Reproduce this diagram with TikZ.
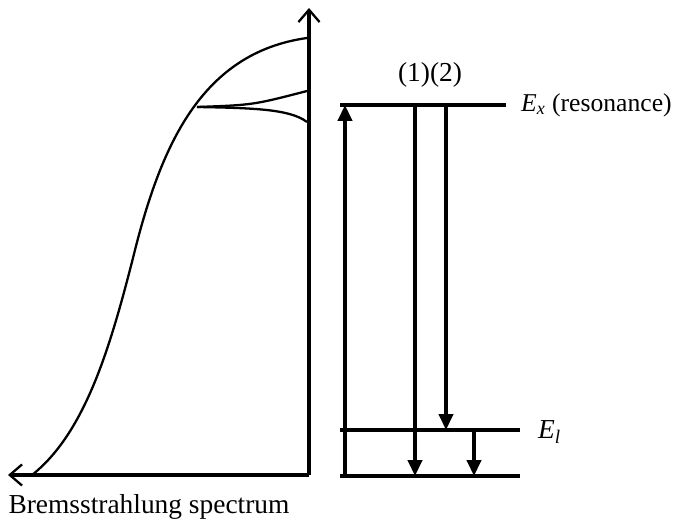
\documentclass[tikz,border=0pt]{standalone}
\usepackage{fontspec}
\setmainfont{Liberation Serif}
\usetikzlibrary{arrows.meta}

\tikzset{
  axis/.style={line width=1.9pt, -{Straight Barb[length=7pt,width=12pt,line width=1.3pt]}},
  level/.style={line width=1.9pt},
  trans/.style={line width=1.9pt, -{Triangle[length=9pt,width=8pt]}},
  spec/.style={line width=1.3pt},
  lbl/.style={font=\fontsize{15.6}{18}\selectfont, inner sep=1pt},
}

\begin{document}
\begin{tikzpicture}
    \useasboundingbox (0,0) rectangle (13.56,10.56);
    % Axes of the spectrum
    \coordinate (orig) at (6.18,1.06);
    \coordinate (ytip) at (6.18,10.4);
    \coordinate (xtip) at (0.16,1.06);
    \draw[axis] (orig) -- (ytip);
    \draw[axis] (orig) -- (xtip);
    % Bremsstrahlung curve
    \coordinate (cstart) at (0.64,1.06);
    \coordinate (cmid) at (2.66,5.4);
    \coordinate (cend) at (6.14,9.8);
    \draw[spec] (cstart) .. controls (1.7,1.9) and (2.2,3.6) .. (cmid)
                         .. controls (3.2,7.6) and (4.0,9.5) .. (cend);
    % Resonance notch
    \coordinate (notch) at (3.94,8.42);
    \draw[spec] (notch) .. controls (5.06,8.46) .. (6.14,8.74);
    \draw[spec] (notch) .. controls (5.06,8.4) and (5.8,8.38) .. (6.14,8.12);
    \node[lbl] (spectrum) at (2.98,0.42) {Bremsstrahlung spectrum};

    % Energy levels
    \coordinate (ex0) at (6.8,8.46);   \coordinate (ex1) at (10.12,8.46);
    \coordinate (el0) at (6.8,1.96);   \coordinate (el1) at (10.4,1.96);
    \coordinate (gs0) at (6.8,1.04);   \coordinate (gs1) at (10.4,1.04);
    \draw[level] (ex0) -- (ex1);
    \draw[level] (el0) -- (el1);
    \draw[level] (gs0) -- (gs1);
    \node[lbl, anchor=west, font=\fontsize{14.6}{18}\selectfont] (exlab) at (10.38,8.46)
        {\textit{E}\textsubscript{\textit{x}} (resonance)};
    \node[lbl, anchor=west] (ellab) at (10.72,1.92) {\textit{E}\textsubscript{\textit{l}}};
    \node[lbl] (paths) at (8.6,9.06) {(1)(2)};

    % Transitions
    \coordinate (abs0) at (6.9,1.04);  \coordinate (abs1) at (6.9,8.46);
    \coordinate (one0) at (8.3,8.46);  \coordinate (one1) at (8.3,1.04);
    \coordinate (two0) at (8.92,8.46); \coordinate (two1) at (8.92,1.96);
    \coordinate (cas0) at (9.48,1.96); \coordinate (cas1) at (9.48,1.04);
    \draw[trans] (abs0) -- (abs1);
    \draw[trans] (one0) -- (one1);
    \draw[trans] (two0) -- (two1);
    \draw[trans] (cas0) -- (cas1);
\end{tikzpicture}
\end{document}
